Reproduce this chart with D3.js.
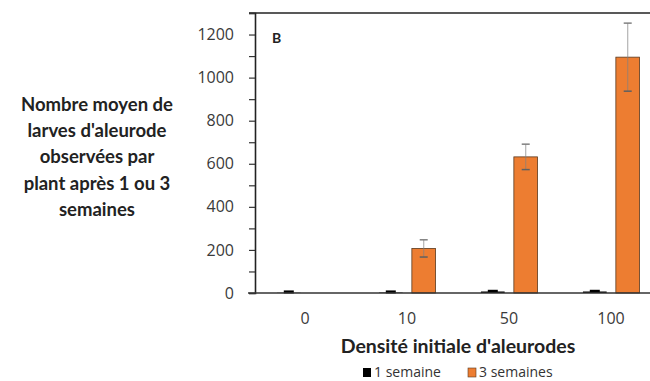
<!DOCTYPE html>
<html>
<head>
<meta charset="utf-8">
<script src="https://cdn.jsdelivr.net/npm/d3@7"></script>
<style>
  html, body { margin: 0; padding: 0; background: #fff; }
  svg { display: block; }
</style>
</head>
<body>
<svg id="chart" width="650" height="381"></svg>
<script>
// Densities of whiteflies released per plant
const categories = ["0", "10", "50", "100"];
const seriesNames = ["1 semaine", "3 semaines"];
// Mean larvae per plant
const week1 = [1, 2, 7, 7];
const week3 = [0, 207, 632, 1095];
// Error bar half-widths
const week1Err = [4, 3, 1, 1];
const week3Err = [0, 40, 59, 158];
const yTicks = [0, 200, 400, 600, 800, 1000, 1200];
const colors = ["#000000", "#ED7D31"];

const svg = d3.select("#chart");

const x = d3.scaleBand().domain(categories).range([254, 662]).padding(0);
const bw = x.bandwidth();
const x1 = d3.scaleBand().domain(seriesNames).range([bw * 0.225, bw * 0.78]).paddingInner(0.28);
const y = d3.scaleLinear().domain([0, 1300]).range([293, 13]);

const tickFont = "'Open Sans', 'Liberation Sans', sans-serif";
const boldFont = "Lato, 'Open Sans', sans-serif";

// Top frame line
svg.append("line")
  .attr("x1", 249).attr("x2", 650)
  .attr("y1", y(1300)).attr("y2", y(1300))
  .attr("stroke", "#222").attr("stroke-width", 1.6);

// Y axis: ticks every 100, labels every 200
const yAxis = d3.axisLeft(y)
  .tickValues(d3.range(0, 1301, 100))
  .tickSize(6)
  .tickFormat(d => yTicks.includes(d) ? d : "");
const gy = svg.append("g").attr("transform", "translate(255,0)").call(yAxis);
gy.select(".domain").attr("stroke", "#222").attr("stroke-width", 1.6);
gy.selectAll(".tick line").attr("stroke", "#333").attr("stroke-width", 1.2);
gy.selectAll(".tick text")
  .attr("x", -21)
  .attr("fill", "#3a3a3a")
  .style("font-family", tickFont)
  .style("font-size", "16px");

// Data rows
const rows = categories.map((c, i) => ({
  cat: c,
  vals: [
    { s: seriesNames[0], v: week1[i], e: week1Err[i], k: 0 },
    { s: seriesNames[1], v: week3[i], e: week3Err[i], k: 1 }
  ]
}));

const groups = svg.append("g").selectAll("g")
  .data(rows).join("g")
  .attr("transform", d => `translate(${x(d.cat)},0)`);

groups.selectAll("rect")
  .data(d => d.vals.filter(v => v.v > 0))
  .join("rect")
  .attr("x", d => x1(d.s))
  .attr("width", x1.bandwidth())
  .attr("y", d => y(d.v))
  .attr("height", d => y(0) - y(d.v))
  .attr("fill", d => colors[d.k])
  .attr("stroke", d => d.k === 1 ? "#5a3a20" : "none")
  .attr("stroke-width", 0.8);

// Error bars
const eb = groups.selectAll("g.err")
  .data(d => d.vals.filter(v => v.e > 0))
  .join("g").attr("class", "err")
  .attr("transform", d => `translate(${x1(d.s) + x1.bandwidth() / 2},0)`);
eb.append("line")
  .attr("x1", 0).attr("x2", 0)
  .attr("y1", d => y(d.v + d.e)).attr("y2", d => y(Math.max(0, d.v - d.e)))
  .attr("stroke", d => d.k === 1 ? "#808080" : "#000")
  .attr("stroke-opacity", d => d.k === 1 ? 0.6 : 1)
  .attr("stroke-width", 1.2);
eb.append("line")
  .attr("x1", d => d.k === 1 ? -4 : -5).attr("x2", d => d.k === 1 ? 4 : 5)
  .attr("y1", d => y(d.v + d.e)).attr("y2", d => y(d.v + d.e))
  .attr("stroke", d => d.k === 1 ? "#808080" : "#000")
  .attr("stroke-width", d => d.k === 1 ? 1.5 : 3);
eb.filter(d => d.k === 1).append("line")
  .attr("x1", -4).attr("x2", 4)
  .attr("y1", d => y(d.v - d.e)).attr("y2", d => y(d.v - d.e))
  .attr("stroke", "#606060")
  .attr("stroke-width", 1.5);

// X axis
const xAxis = d3.axisBottom(x).tickSize(0).tickPadding(20);
const gx = svg.append("g").attr("transform", `translate(0,${y(0)})`).call(xAxis);
gx.select(".domain").remove();
gx.selectAll(".tick text")
  .attr("fill", "#3a3a3a")
  .style("font-family", tickFont)
  .style("font-size", "16px");
svg.append("line")
  .attr("x1", 248).attr("x2", 650)
  .attr("y1", y(0)).attr("y2", y(0))
  .attr("stroke", "#333").attr("stroke-width", 1.6);

// Panel letter
svg.append("text")
  .attr("x", 272).attr("y", 43)
  .style("font-family", boldFont).style("font-weight", "bold").style("font-size", "14px")
  .attr("fill", "#222")
  .text("B");

// X axis title
svg.append("text")
  .attr("x", 458).attr("y", 353)
  .attr("text-anchor", "middle")
  .style("font-family", boldFont).style("font-weight", "bold").style("font-size", "19.5px")
  .attr("fill", "#222")
  .text("Densité initiale d'aleurodes");

// Y axis title
const yTitle = ["Nombre moyen de", "larves d'aleurode", "observées par", "plant après 1 ou 3", "semaines"];
svg.append("text")
  .attr("text-anchor", "middle")
  .style("font-family", boldFont).style("font-weight", "bold").style("font-size", "18.5px")
  .attr("fill", "#222")
  .selectAll("tspan").data(yTitle).join("tspan")
  .attr("x", 97)
  .attr("y", (d, i) => 111 + i * 26.2)
  .text(d => d);

// Legend
const legend = svg.append("g").attr("transform", "translate(363,377)");
const items = legend.selectAll("g").data(seriesNames).join("g")
  .attr("transform", (d, i) => `translate(${i * 105},0)`);
items.append("rect")
  .attr("x", 0).attr("y", -9).attr("width", 8).attr("height", 9)
  .attr("fill", (d, i) => colors[i])
  .attr("stroke", (d, i) => i === 1 ? "#5a3a20" : "none")
  .attr("stroke-width", 0.6);
items.append("text")
  .attr("x", 11).attr("y", 0)
  .style("font-family", tickFont).style("font-size", "14px")
  .attr("fill", "#333")
  .text(d => d);
</script>
</body>
</html>
